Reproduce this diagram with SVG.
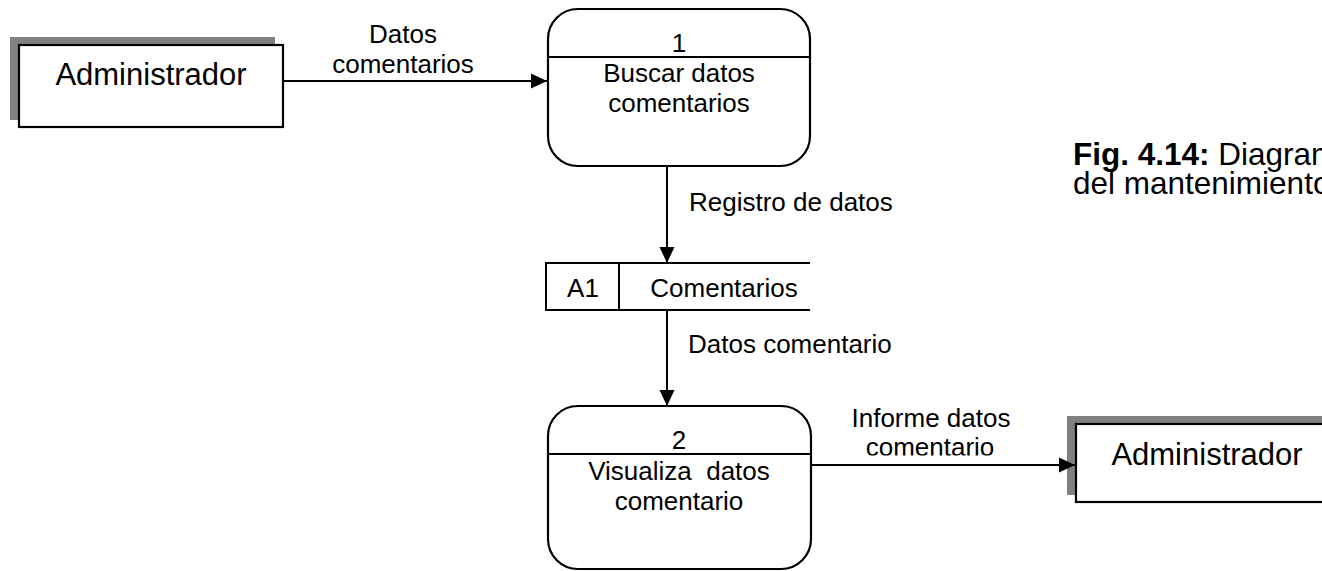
<svg xmlns="http://www.w3.org/2000/svg" width="1322" height="571" viewBox="0 0 1322 571">
  <style>
    .box { fill: #ffffff; stroke: #000000; stroke-width: 2.2; }
    .shadow { fill: #808080; stroke: none; }
    .line { fill: none; stroke: #000000; stroke-width: 2; }
    .ent { font-family: "Liberation Sans", Arial, sans-serif; font-size: 31px; fill: #000000; text-anchor: middle; }
    .txt { font-family: "Liberation Sans", Arial, sans-serif; font-size: 26px; fill: #000000; text-anchor: middle; white-space: pre; }
    .lbl { font-family: "Liberation Sans", Arial, sans-serif; font-size: 26px; fill: #000000; }
    .cap { font-family: "Liberation Sans", Arial, sans-serif; font-size: 31.5px; fill: #000000; }
  </style>
  <defs>
    <marker id="arrow" markerUnits="userSpaceOnUse" markerWidth="17" markerHeight="17" viewBox="0 0 17 17" refX="16" refY="8.5" orient="auto">
      <path d="M0,1 L16,8.5 L0,16 Z" fill="#000000"/>
    </marker>
    <clipPath id="clipLabel">
      <rect x="820" y="390" width="240" height="65.5"/>
    </clipPath>
  </defs>

  <rect width="1322" height="571" fill="#ffffff"/>

  <!-- external entity: Administrador (source) -->
  <g id="admin-source">
    <rect class="shadow" x="10" y="37" width="265" height="83"/>
    <rect class="box" x="19" y="45" width="264" height="82"/>
    <text class="ent" x="151" y="85">Administrador</text>
  </g>

  <!-- process 1 -->
  <g id="process-1">
    <rect class="box" x="548" y="9" width="262" height="157" rx="30" ry="30"/>
    <line class="line" x1="548" y1="57" x2="810" y2="57"/>
    <text class="txt" x="679" y="52">1</text>
    <text class="txt" x="679" y="82">Buscar datos</text>
    <text class="txt" x="679" y="112">comentarios</text>
  </g>

  <!-- data store A1 -->
  <g id="store-a1">
    <path class="line" d="M810,263 L546,263 L546,310 L810,310"/>
    <line class="line" x1="619" y1="263" x2="619" y2="310"/>
    <text class="txt" x="583" y="297">A1</text>
    <text class="txt" x="724" y="297">Comentarios</text>
  </g>

  <!-- process 2 -->
  <g id="process-2">
    <rect class="box" x="548" y="406" width="263" height="163" rx="30" ry="30"/>
    <line class="line" x1="548" y1="454" x2="811" y2="454"/>
    <text class="txt" x="679" y="449">2</text>
    <text class="txt" x="679" y="480">Visualiza  datos</text>
    <text class="txt" x="679" y="510">comentario</text>
  </g>

  <!-- external entity: Administrador (sink) -->
  <g id="admin-sink">
    <rect class="shadow" x="1067" y="416" width="265" height="79"/>
    <rect class="box" x="1076" y="424" width="264" height="78"/>
    <text class="ent" x="1207" y="465">Administrador</text>
  </g>

  <!-- data flows -->
  <g id="connectors">
    <line class="line" x1="284" y1="81" x2="547" y2="81" marker-end="url(#arrow)"/>
    <line class="line" x1="667" y1="166" x2="667" y2="263" marker-end="url(#arrow)"/>
    <line class="line" x1="667" y1="310" x2="667" y2="406" marker-end="url(#arrow)"/>
    <line class="line" x1="812" y1="465" x2="1075" y2="465" marker-end="url(#arrow)"/>

    <text class="txt" x="403" y="43">Datos</text>
    <text class="txt" x="403" y="73">comentarios</text>
    <text class="lbl" x="689" y="211">Registro de datos</text>
    <text class="lbl" x="688" y="353">Datos comentario</text>
    <text class="txt" x="931" y="427">Informe datos</text>
    <text class="txt" x="930" y="456" clip-path="url(#clipLabel)">comentario</text>
  </g>

  <!-- figure caption, running past the right edge -->
  <g id="caption">
    <text class="cap" x="1073" y="165"><tspan font-weight="bold">Fig. 4.14:</tspan> Diagrama</text>
    <text class="cap" x="1073" y="194">del mantenimiento</text>
  </g>
</svg>
